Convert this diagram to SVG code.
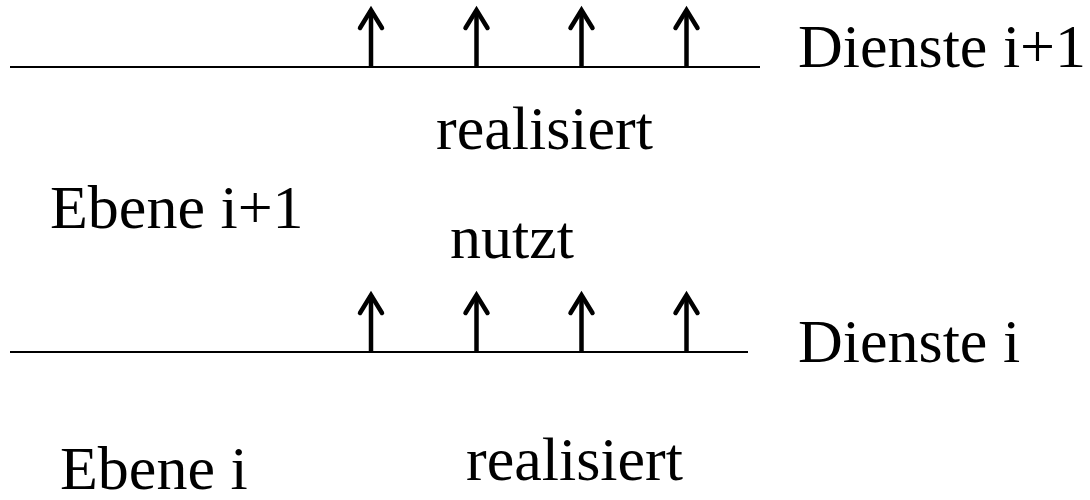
<svg xmlns="http://www.w3.org/2000/svg" width="1090" height="500" viewBox="0 0 1090 500">
<style>
.t{font-family:"Liberation Serif","Times New Roman",serif;font-size:62px;fill:#000}
.ln{stroke:#000;stroke-width:2;fill:none}
.ar{stroke:#000;stroke-width:4.5;fill:none;marker-end:url(#head)}
</style>
<defs>
<marker id="head" markerUnits="userSpaceOnUse" orient="auto" refX="0" refY="0" markerWidth="30" markerHeight="30" overflow="visible">
<path d="M-18,-11 L0,0 L-18,11" fill="none" stroke="#000" stroke-width="4.5" stroke-linecap="round" stroke-linejoin="miter"/>
</marker>
</defs>
<rect width="1090" height="500" fill="#fff"/>
<g id="connectors">
<line class="ln" x1="10" y1="67" x2="760" y2="67"/>
<line class="ln" x1="10" y1="352" x2="748" y2="352"/>
<line class="ar" x1="371" y1="67" x2="371" y2="10"/>
<line class="ar" x1="476.5" y1="67" x2="476.5" y2="10"/>
<line class="ar" x1="581.5" y1="67" x2="581.5" y2="10"/>
<line class="ar" x1="686.5" y1="67" x2="686.5" y2="10"/>
<line class="ar" x1="371" y1="352" x2="371" y2="295"/>
<line class="ar" x1="476.5" y1="352" x2="476.5" y2="295"/>
<line class="ar" x1="581.5" y1="352" x2="581.5" y2="295"/>
<line class="ar" x1="686.5" y1="352" x2="686.5" y2="295"/>
</g>
<g id="dienste-i1"><text class="t" x="798" y="67">Dienste i+1</text></g>
<g id="realisiert-top"><text class="t" x="436" y="149">realisiert</text></g>
<g id="ebene-i1"><text class="t" x="50" y="228">Ebene i+1</text></g>
<g id="nutzt"><text class="t" x="450" y="258">nutzt</text></g>
<g id="dienste-i"><text class="t" x="798" y="362">Dienste i</text></g>
<g id="realisiert-bottom"><text class="t" x="466" y="480">realisiert</text></g>
<g id="ebene-i"><text class="t" x="60" y="489">Ebene i</text></g>
</svg>
